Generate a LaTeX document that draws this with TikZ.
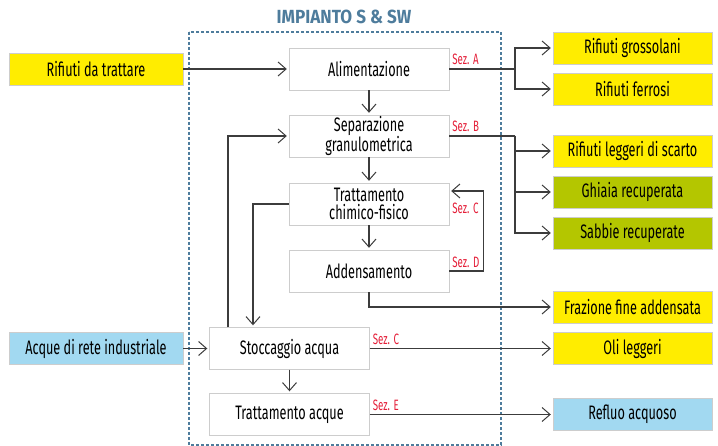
\documentclass[tikz,border=0pt]{standalone}
\usepackage{fontspec}
\setmainfont[FakeStretch=0.65]{Fira Sans}
\newfontfamily\fonttitolo[FakeStretch=0.9]{Fira Sans}
\usepackage{xcolor}
\usetikzlibrary{arrows.meta}
\usetikzlibrary{positioning,calc}
\definecolor{giallo}{RGB}{255,237,0}
\definecolor{verde}{RGB}{180,198,0}
\definecolor{azzurro}{RGB}{162,217,241}
\definecolor{blutitolo}{RGB}{78,124,156}
\definecolor{rossosez}{RGB}{228,30,56}
\definecolor{grigiolinea}{RGB}{60,60,60}
\definecolor{grigiobordo}{RGB}{205,205,205}
\newcommand{\testobox}{\fontsize{19.5}{18.5}\selectfont}
\newcommand{\testosez}{\fontsize{15}{15}\selectfont}

\begin{document}
\begin{tikzpicture}[x=1pt, y=-1pt,
	fase/.style={draw=grigiobordo, fill=white, minimum width=160pt, minimum height=42pt, align=center, inner sep=0pt, font=\testobox},
	ingresso/.style={draw=grigiobordo, minimum width=174pt, minimum height=32pt, inner sep=0pt, font=\testobox},
	uscita/.style={draw=grigiobordo, minimum width=159pt, minimum height=32pt, inner sep=0pt, font=\testobox},
	sez/.style={text=rossosez, inner sep=0pt, font=\testosez},
	freccia/.style={draw=grigiolinea, line width=1.1pt, -{Straight Barb[length=8pt, width=14pt, line width=1pt]}, shorten >=2pt},
	linea/.style={draw=grigiolinea, line width=1.1pt}]
	\useasboundingbox (0,0) rectangle (718,446);
	% The frame:
	\draw[blutitolo, dash pattern=on 3pt off 2pt, line width=1.2pt] (189,32) rectangle (501,445);
	\node[text=blutitolo, font=\fonttitolo\bfseries\fontsize{19}{19}\selectfont] (titolo) at (344,17) {IMPIANTO S \& SW};
	% Fasi dell'impianto:
	\node[fase] (alim) at (369,69) {Alimentazione};
	\node[fase] (sep) at (369,136) {Separazione\\granulometrica};
	\node[fase] (tratt) at (369,204) {Trattamento\\chimico-fisico};
	\node[fase] (adden) at (369,271) {Addensamento};
	\node[fase] (stocc) at (289.5,348.5) {Stoccaggio acqua};
	\node[fase] (tracq) at (289.5,414.5) {Trattamento acque};
	% Ingressi:
	\node[ingresso, fill=giallo] (rifiuti) at (96,69) {Rifiuti da trattare};
	\node[ingresso, fill=azzurro] (acque) at (96,348.5) {Acque di rete industriale};
	% Uscite:
	\node[uscita, fill=giallo] (gross) at (632.5,48) {Rifiuti grossolani};
	\node[uscita, fill=giallo] (ferr) at (632.5,89) {Rifiuti ferrosi};
	\node[uscita, fill=giallo] (legg) at (632.5,151) {Rifiuti leggeri di scarto};
	\node[uscita, fill=verde] (ghiaia) at (632.5,192) {Ghiaia recuperata};
	\node[uscita, fill=verde] (sabbie) at (632.5,233) {Sabbie recuperate};
	\node[uscita, fill=giallo] (fraz) at (632.5,307) {Frazione fine addensata};
	\node[uscita, fill=giallo] (oli) at (632.5,348.5) {Oli leggeri};
	\node[uscita, fill=azzurro] (refluo) at (632.5,414.5) {Refluo acquoso};
	% Sezioni:
	\node[sez, anchor=south west] (sezA) at ($(alim.east)+(3,-4)$) {Sez. A};
	\node[sez, anchor=south west] (sezB) at ($(sep.east)+(3,-4)$) {Sez. B};
	\node[sez, anchor=west] (sezC) at ($(tratt.east)+(3,4)$) {Sez. C};
	\node[sez, anchor=west] (sezD) at ($(adden.east)+(3,-9)$) {Sez. D};
	\node[sez, anchor=south west] (sezC2) at ($(stocc.east)+(3,-4)$) {Sez. C};
	\node[sez, anchor=south west] (sezE) at ($(tracq.east)+(3,-4)$) {Sez. E};
	% Collegamenti:
	\coordinate (snodoA) at (515,69);
	\coordinate (snodoB) at (515,136);
	\draw[freccia] (rifiuti) -- (alim);
	\draw[linea] (alim.east) -- (snodoA);
	\draw[freccia] (snodoA) |- (gross);
	\draw[freccia] (snodoA) |- (ferr);
	\draw[freccia] (alim) -- (sep);
	\draw[linea] (sep.east) -- (snodoB);
	\draw[freccia] (snodoB) |- (legg);
	\draw[freccia] (snodoB) |- (ghiaia);
	\draw[freccia] (snodoB) |- (sabbie);
	\draw[freccia] (sep) -- (tratt);
	\draw[freccia] (tratt) -- (adden);
	\draw[freccia] (adden.east) -- ++(34,0) |- ($(tratt.east)+(0,-13)$);
	\draw[freccia] (adden.south) |- (fraz);
	\draw[freccia] (tratt.west) -| ($(stocc.north)+(-36.5,0)$);
	\draw[freccia] ($(stocc.north)+(-61.5,0)$) |- (sep.west);
	\draw[freccia] (acque) -- (stocc);
	\draw[freccia] (stocc) -- (oli);
	\draw[freccia] (stocc) -- (tracq);
	\draw[freccia] (tracq) -- (refluo);
\end{tikzpicture}
\end{document}
